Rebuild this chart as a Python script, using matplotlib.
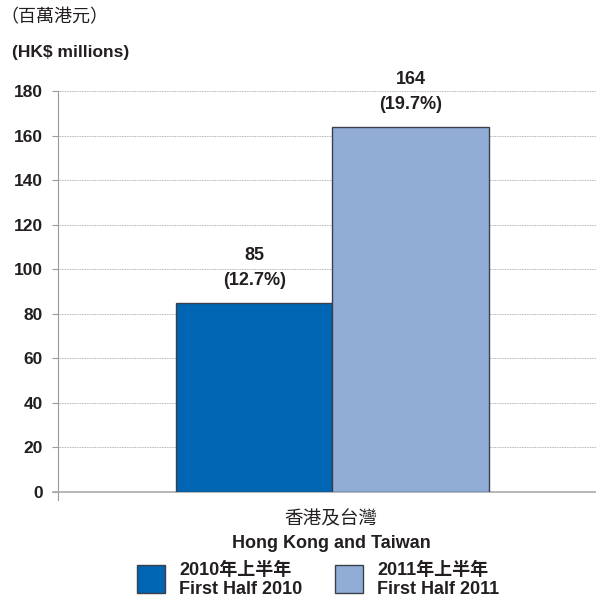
import matplotlib.pyplot as plt
from matplotlib.patches import Rectangle

plt.rcParams['font.family'] = ['Liberation Sans', 'Noto Sans CJK TC', 'DejaVu Sans']

region_zh = '香港及台灣'
region_en = 'Hong Kong and Taiwan'
periods_zh = ['2010年上半年', '2011年上半年']
periods_en = ['First Half 2010', 'First Half 2011']
values = [85, 164]
shares = ['12.7%', '19.7%']
colors = ['#0066b3', '#91add6']
ink = '#231f20'

fig = plt.figure(figsize=(5.96, 5.99), dpi=100)
ax = fig.add_axes([58 / 596, 1 - 492 / 599, 1 - 58 / 596, (492 - 91) / 599])

w = 0.57
xs = [-w / 2, w / 2]
ax.bar(xs, values, width=w, color=colors, edgecolor='#3a3f4a', linewidth=1.0, zorder=3)
for x, v, s in zip(xs, values, shares):
    ax.annotate(f'({s})', (x, v), xytext=(0, 16), textcoords='offset points',
                ha='center', va='center', fontsize=13, fontweight='bold', color=ink)
    ax.annotate(f'{v}', (x, v), xytext=(0, 34), textcoords='offset points',
                ha='center', va='center', fontsize=13, fontweight='bold', color=ink)

ax.set_xlim(-1.0, 0.96)
ax.set_ylim(0, 180)
ax.set_yticks(range(0, 181, 20))
ax.set_xticks([])
ax.tick_params(axis='y', length=4.3, width=0.8, color='#999999', labelsize=12.5,
               labelcolor=ink, pad=6.5)
for lbl in ax.get_yticklabels():
    lbl.set_fontweight('bold')
ax.grid(axis='y', linestyle=(0, (1, 1)), color='#9a9a9a', linewidth=0.6, zorder=0)
for side in ['top', 'right']:
    ax.spines[side].set_visible(False)
ax.spines['left'].set_color('#999999')
ax.spines['left'].set_bounds(-3.5, 180)
ax.spines['bottom'].set_color('#aaaaaa')
ax.spines['bottom'].set_linewidth(1.2)
ax.spines['bottom'].set_bounds(-1.02, 0.96)

# headings above the axis
fig.text(0 / 596, 1 - 18 / 599, '（百萬港元）', fontsize=13, color=ink,
         va='center', ha='left')
fig.text(12 / 596, 1 - 52 / 599, '(HK$ millions)', fontsize=12.5, fontweight='bold',
         color=ink, va='center', ha='left')

# category label
fig.text(331 / 596, 1 - 519 / 599, region_zh, fontsize=13.4, color=ink,
         ha='center', va='center')
fig.text(331 / 596, 1 - 543 / 599, region_en, fontsize=13, fontweight='bold',
         color=ink, ha='center', va='center')

# legend
for px, tx, c, zh, en in zip([137, 335], [179, 377], colors, periods_zh, periods_en):
    fig.patches.append(Rectangle((px / 596, 1 - 593 / 599), 28 / 596, 28 / 599,
                                 transform=fig.transFigure, facecolor=c,
                                 edgecolor='#3a3f4a', linewidth=1.0))
    fig.text(tx / 596, 1 - 570 / 599, zh, fontsize=13, fontweight='bold',
             color=ink, ha='left', va='center')
    fig.text(tx / 596, 1 - 589 / 599, en, fontsize=13, fontweight='bold',
             color=ink, ha='left', va='center')

fig.savefig('out.png', dpi=100)
